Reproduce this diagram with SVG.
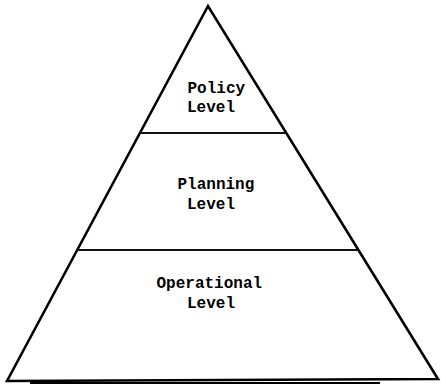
<svg xmlns="http://www.w3.org/2000/svg" width="441" height="386" viewBox="0 0 441 386">
  <style>
    .edge { fill: none; stroke: #000; stroke-width: 2.6; stroke-linejoin: miter; stroke-linecap: round; }
    .tier { stroke: #111; stroke-width: 2; }
    .label { font-family: "Liberation Mono", "Courier New", monospace; font-size: 16px; font-weight: bold; fill: #000; }
  </style>
  <rect width="441" height="386" fill="#fff"/>
  <!-- pyramid outline and tier dividers -->
  <g id="connectors">
    <path class="edge" d="M 7 381 L 208 6 L 438 379 Z"/>
    <line class="tier" x1="140" y1="133" x2="286" y2="133"/>
    <line class="tier" x1="77" y1="250" x2="358" y2="250"/>
    <line x1="30" y1="383" x2="380" y2="383" stroke="#000" stroke-width="2.2"/>
  </g>
  <g id="policy">
    <text class="label" x="187.5" y="93">Policy</text>
    <text class="label" x="187" y="111.5">Level</text>
  </g>
  <g id="planning">
    <text class="label" x="177.5" y="188.5">Planning</text>
    <text class="label" x="187" y="208.5">Level</text>
  </g>
  <g id="operational">
    <text class="label" x="156.5" y="287.5">Operational</text>
    <text class="label" x="187" y="307.5">Level</text>
  </g>
</svg>
